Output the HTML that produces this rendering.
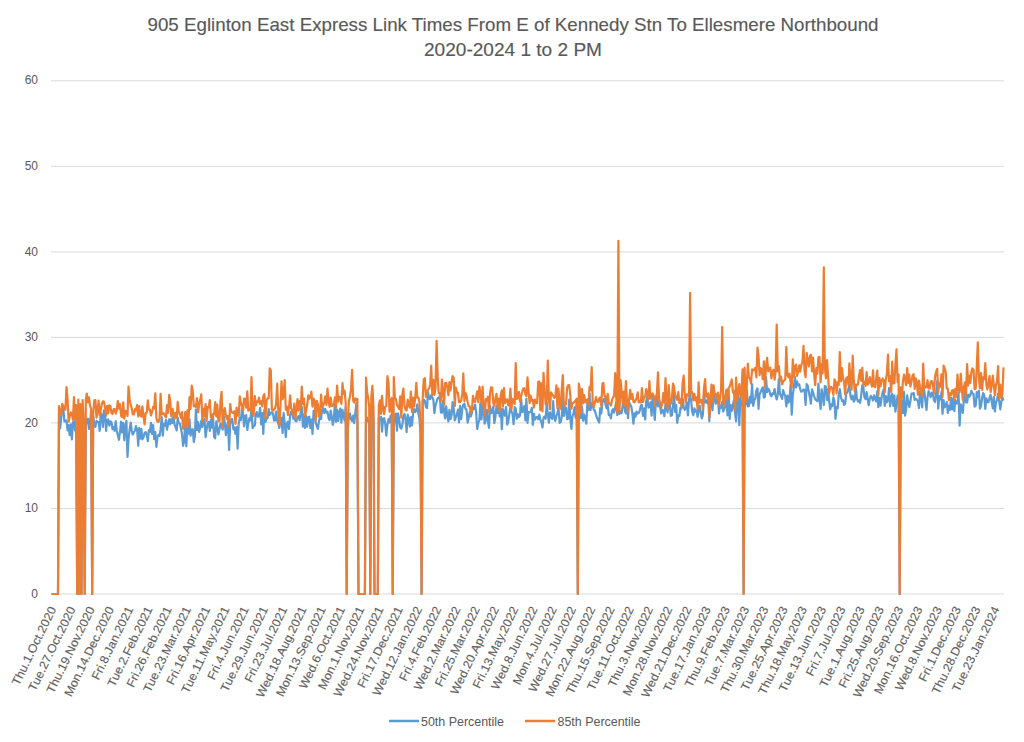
<!DOCTYPE html>
<html><head><meta charset="utf-8"><style>
html,body{margin:0;padding:0;background:#fff;}
svg{display:block;font-family:"Liberation Sans",sans-serif;}
</style></head><body>
<svg width="1024" height="742" viewBox="0 0 1024 742">
<rect width="1024" height="742" fill="#fff"/>
<g fill="#595959" stroke="#595959" stroke-width="0.15" font-size="18.5" text-anchor="middle">
<text x="513" y="30.5" textLength="731" lengthAdjust="spacingAndGlyphs">905 Eglinton East Express Link Times From E of Kennedy Stn To Ellesmere Northbound</text>
<text x="513" y="56" textLength="178" lengthAdjust="spacingAndGlyphs">2020-2024 1 to 2 PM</text>
</g>
<g stroke="#d9d9d9" stroke-width="1"><line x1="51.0" y1="508.5" x2="1004.0" y2="508.5" /><line x1="51.0" y1="422.9" x2="1004.0" y2="422.9" /><line x1="51.0" y1="337.4" x2="1004.0" y2="337.4" /><line x1="51.0" y1="251.9" x2="1004.0" y2="251.9" /><line x1="51.0" y1="166.3" x2="1004.0" y2="166.3" /><line x1="51.0" y1="80.8" x2="1004.0" y2="80.8" /><line x1="51.0" y1="594.0" x2="1004.0" y2="594.0"/></g>
<g fill="#595959" font-size="12" text-anchor="end"><text x="38" y="597.6">0</text><text x="38" y="512.1">10</text><text x="38" y="426.5">20</text><text x="38" y="341.0">30</text><text x="38" y="255.5">40</text><text x="38" y="169.9">50</text><text x="38" y="84.4">60</text></g>
<g fill="none" stroke-width="2.2" stroke-linejoin="round">
<polyline stroke="#5B9BD5" points="51.5,594.0 52.6,594.0 53.7,594.0 54.7,594.0 55.8,594.0 56.9,594.0 58.0,594.0 59.0,413.4 60.1,428.4 61.2,417.8 62.2,406.5 63.3,408.7 64.4,421.4 65.4,421.4 66.5,420.3 67.6,430.4 68.6,425.0 69.7,435.2 70.8,424.4 71.9,439.3 72.9,422.4 74.0,421.2 75.1,430.5 76.1,418.4 77.2,594.0 78.3,426.9 79.3,594.0 80.4,426.4 81.5,594.0 82.6,416.1 83.6,424.9 84.7,594.0 85.8,425.6 86.8,419.8 87.9,418.7 89.0,428.8 90.0,422.6 91.1,411.2 92.2,594.0 93.2,415.9 94.3,424.3 95.4,426.9 96.5,420.9 97.5,421.8 98.6,422.0 99.7,430.8 100.7,412.9 101.8,415.1 102.9,427.0 103.9,410.3 105.0,414.6 106.1,430.8 107.2,419.8 108.2,419.4 109.3,425.6 110.4,421.3 111.4,422.0 112.5,429.2 113.6,426.9 114.6,430.8 115.7,421.0 116.8,430.9 117.8,435.1 118.9,439.8 120.0,432.1 121.1,421.7 122.1,432.4 123.2,422.9 124.3,440.3 125.3,426.7 126.4,420.8 127.5,457.0 128.5,439.7 129.6,429.7 130.7,422.7 131.8,431.0 132.8,434.6 133.9,432.1 135.0,430.5 136.0,426.0 137.1,429.5 138.2,445.8 139.2,427.9 140.3,438.7 141.4,428.9 142.4,439.3 143.5,437.5 144.6,433.1 145.7,432.1 146.7,434.6 147.8,441.2 148.9,430.0 149.9,432.1 151.0,422.9 152.1,433.8 153.1,425.0 154.2,439.1 155.3,432.0 156.4,446.8 157.4,436.9 158.5,434.8 159.6,435.9 160.6,429.4 161.7,417.2 162.8,435.6 163.8,423.5 164.9,425.8 166.0,419.9 167.0,429.7 168.1,423.7 169.2,419.3 170.3,424.3 171.3,419.1 172.4,423.0 173.5,415.3 174.5,424.6 175.6,426.7 176.7,430.5 177.7,417.7 178.8,423.3 179.9,423.8 181.0,428.7 182.0,434.3 183.1,445.8 184.2,441.1 185.2,420.8 186.3,446.3 187.4,424.1 188.4,433.7 189.5,419.4 190.6,435.7 191.7,429.6 192.7,429.2 193.8,442.0 194.9,436.2 195.9,409.3 197.0,430.0 198.1,422.2 199.1,432.0 200.2,427.3 201.3,420.7 202.3,427.1 203.4,421.5 204.5,418.9 205.6,437.1 206.6,429.5 207.7,423.2 208.8,421.8 209.8,430.8 210.9,419.8 212.0,427.6 213.0,416.7 214.1,436.9 215.2,438.3 216.3,421.3 217.3,427.2 218.4,434.5 219.5,429.1 220.5,423.3 221.6,426.5 222.7,429.6 223.7,416.5 224.8,423.0 225.9,435.2 226.9,427.0 228.0,421.7 229.1,449.9 230.2,423.9 231.2,419.4 232.3,419.1 233.4,429.3 234.4,427.4 235.5,434.0 236.6,427.1 237.6,448.6 238.7,423.4 239.8,417.9 240.9,420.2 241.9,408.7 243.0,413.2 244.1,426.4 245.1,415.7 246.2,415.2 247.3,430.0 248.3,423.3 249.4,418.2 250.5,420.4 251.5,406.9 252.6,428.2 253.7,425.9 254.8,425.4 255.8,414.2 256.9,412.1 258.0,416.8 259.0,416.0 260.1,407.9 261.2,424.5 262.2,413.0 263.3,434.0 264.4,409.5 265.5,422.0 266.5,417.9 267.6,418.2 268.7,409.0 269.7,414.8 270.8,413.7 271.9,412.1 272.9,413.2 274.0,420.7 275.1,420.3 276.1,411.7 277.2,420.7 278.3,423.6 279.4,427.9 280.4,418.5 281.5,417.8 282.6,432.9 283.6,412.8 284.7,422.9 285.8,437.1 286.8,423.7 287.9,421.6 289.0,429.0 290.1,415.2 291.1,411.6 292.2,412.8 293.3,418.7 294.3,417.8 295.4,420.9 296.5,421.3 297.5,417.1 298.6,416.2 299.7,420.3 300.7,412.5 301.8,406.7 302.9,426.7 304.0,414.7 305.0,427.9 306.1,415.5 307.2,426.7 308.2,417.5 309.3,416.7 310.4,428.2 311.4,419.5 312.5,433.9 313.6,410.8 314.7,410.6 315.7,422.9 316.8,425.9 317.9,428.9 318.9,421.8 320.0,416.4 321.1,419.0 322.1,409.7 323.2,408.2 324.3,413.0 325.3,409.1 326.4,412.5 327.5,411.6 328.6,418.3 329.6,420.1 330.7,410.7 331.8,416.9 332.8,424.8 333.9,418.9 335.0,400.0 336.0,421.9 337.1,409.7 338.2,421.0 339.3,412.5 340.3,408.6 341.4,422.6 342.5,409.9 343.5,415.3 344.6,420.6 345.7,407.2 346.7,594.0 347.8,430.9 348.9,414.0 349.9,413.4 351.0,419.3 352.1,421.2 353.2,415.5 354.2,423.1 355.3,413.1 356.4,402.9 357.4,424.1 358.5,594.0 359.6,594.0 360.6,594.0 361.7,594.0 362.8,594.0 363.9,594.0 364.9,594.0 366.0,423.3 367.1,417.5 368.1,421.1 369.2,422.2 370.3,594.0 371.3,415.7 372.4,407.8 373.5,419.5 374.5,594.0 375.6,594.0 376.7,594.0 377.8,594.0 378.8,417.9 379.9,420.1 381.0,416.9 382.0,431.7 383.1,418.8 384.2,418.1 385.2,423.3 386.3,435.7 387.4,425.1 388.5,419.1 389.5,422.5 390.6,415.5 391.7,424.0 392.7,594.0 393.8,427.4 394.9,414.7 395.9,413.6 397.0,430.6 398.1,413.4 399.1,418.8 400.2,427.2 401.3,428.6 402.4,424.8 403.4,416.2 404.5,414.0 405.6,419.3 406.6,432.2 407.7,414.7 408.8,418.9 409.8,426.6 410.9,417.0 412.0,425.5 413.1,413.0 414.1,409.1 415.2,412.2 416.3,410.7 417.3,404.3 418.4,413.5 419.5,418.9 420.5,433.7 421.6,594.0 422.7,400.4 423.8,399.7 424.8,400.5 425.9,406.7 427.0,408.1 428.0,392.2 429.1,398.7 430.2,399.1 431.2,395.1 432.3,397.3 433.4,399.9 434.4,413.2 435.5,405.5 436.6,401.7 437.7,398.1 438.7,398.1 439.8,395.6 440.9,412.5 441.9,412.8 443.0,401.0 444.1,411.3 445.1,418.3 446.2,406.3 447.3,415.6 448.4,421.5 449.4,409.9 450.5,419.2 451.6,415.3 452.6,402.0 453.7,408.5 454.8,420.4 455.8,417.3 456.9,414.2 458.0,409.6 459.0,422.5 460.1,405.8 461.2,419.1 462.3,408.8 463.3,404.7 464.4,403.7 465.5,409.1 466.5,409.3 467.6,422.7 468.7,417.9 469.7,412.3 470.8,416.5 471.9,412.9 473.0,407.4 474.0,408.8 475.1,404.5 476.2,413.0 477.2,429.0 478.3,423.0 479.4,419.8 480.4,403.2 481.5,419.4 482.6,402.1 483.6,409.2 484.7,423.6 485.8,419.5 486.9,409.9 487.9,421.5 489.0,427.8 490.1,405.9 491.1,413.1 492.2,412.6 493.3,406.7 494.3,423.2 495.4,417.1 496.5,405.8 497.6,412.9 498.6,401.3 499.7,416.4 500.8,408.3 501.8,429.1 502.9,409.1 504.0,411.5 505.0,415.7 506.1,407.0 507.2,424.7 508.2,421.8 509.3,414.2 510.4,407.1 511.5,411.7 512.5,414.1 513.6,424.1 514.7,407.0 515.7,408.5 516.8,418.8 517.9,414.2 518.9,417.0 520.0,415.5 521.1,399.0 522.2,412.2 523.2,410.9 524.3,406.0 525.4,420.3 526.4,398.9 527.5,422.8 528.6,412.0 529.6,412.4 530.7,411.8 531.8,407.9 532.8,425.0 533.9,413.8 535.0,419.6 536.1,417.5 537.1,416.8 538.2,419.2 539.3,414.7 540.3,419.4 541.4,422.3 542.5,427.5 543.5,417.8 544.6,416.5 545.7,418.7 546.8,402.2 547.8,414.6 548.9,422.7 550.0,412.4 551.0,416.5 552.1,418.9 553.2,401.2 554.2,417.2 555.3,421.0 556.4,415.6 557.4,413.3 558.5,407.8 559.6,423.0 560.7,422.0 561.7,417.1 562.8,399.4 563.9,415.9 564.9,406.7 566.0,408.1 567.1,419.2 568.1,418.8 569.2,399.6 570.3,418.5 571.4,428.9 572.4,416.7 573.5,412.8 574.6,407.3 575.6,417.7 576.7,401.3 577.8,594.0 578.8,406.8 579.9,397.1 581.0,418.1 582.0,406.5 583.1,420.7 584.2,414.7 585.3,418.3 586.3,423.7 587.4,401.9 588.5,410.2 589.5,393.3 590.6,409.9 591.7,403.4 592.7,404.8 593.8,409.8 594.9,410.7 596.0,415.0 597.0,417.9 598.1,420.2 599.2,422.4 600.2,408.1 601.3,413.5 602.4,402.9 603.4,399.8 604.5,398.7 605.6,404.8 606.6,408.3 607.7,404.3 608.8,415.1 609.9,414.9 610.9,418.4 612.0,410.9 613.1,409.2 614.1,412.8 615.2,407.3 616.3,402.0 617.3,415.2 618.4,406.8 619.5,413.9 620.6,411.5 621.6,413.1 622.7,405.6 623.8,394.3 624.8,410.5 625.9,413.3 627.0,404.5 628.0,418.2 629.1,402.1 630.2,404.5 631.2,406.0 632.3,412.7 633.4,423.7 634.5,413.4 635.5,416.8 636.6,411.6 637.7,413.6 638.7,413.1 639.8,410.5 640.9,405.5 641.9,405.0 643.0,416.0 644.1,408.3 645.2,419.4 646.2,400.7 647.3,396.8 648.4,407.6 649.4,406.7 650.5,402.2 651.6,415.7 652.6,396.0 653.7,408.0 654.8,420.0 655.9,400.2 656.9,396.1 658.0,406.5 659.1,401.1 660.1,406.7 661.2,413.5 662.3,409.9 663.3,410.9 664.4,416.2 665.5,403.8 666.5,407.6 667.6,412.4 668.7,397.6 669.8,404.4 670.8,415.9 671.9,415.2 673.0,404.9 674.0,392.4 675.1,412.0 676.2,405.1 677.2,422.8 678.3,415.3 679.4,415.9 680.5,407.5 681.5,408.7 682.6,398.1 683.7,407.0 684.7,409.9 685.8,407.9 686.9,402.5 687.9,415.3 689.0,399.5 690.1,394.5 691.1,400.7 692.2,411.6 693.3,415.3 694.4,408.4 695.4,411.6 696.5,410.4 697.6,416.7 698.6,410.6 699.7,405.7 700.8,412.8 701.8,418.4 702.9,414.6 704.0,394.2 705.1,402.5 706.1,400.6 707.2,403.0 708.3,395.8 709.3,421.3 710.4,404.0 711.5,390.7 712.5,410.3 713.6,393.2 714.7,398.1 715.7,403.7 716.8,402.0 717.9,397.1 719.0,413.4 720.0,405.6 721.1,407.8 722.2,401.9 723.2,411.6 724.3,408.7 725.4,406.0 726.4,399.1 727.5,415.4 728.6,390.5 729.7,418.9 730.7,405.0 731.8,410.8 732.9,404.8 733.9,400.3 735.0,413.1 736.1,421.3 737.1,402.7 738.2,396.0 739.3,425.2 740.3,398.2 741.4,404.1 742.5,406.1 743.6,594.0 744.6,406.5 745.7,404.1 746.8,389.6 747.8,406.4 748.9,406.0 750.0,396.9 751.0,402.7 752.1,384.4 753.2,405.9 754.3,400.6 755.3,398.4 756.4,390.3 757.5,388.4 758.5,408.8 759.6,394.2 760.7,392.1 761.7,389.4 762.8,387.3 763.9,397.7 764.9,396.7 766.0,377.3 767.1,392.1 768.2,388.6 769.2,389.9 770.3,394.7 771.4,396.4 772.4,393.4 773.5,393.9 774.6,389.0 775.6,395.5 776.7,399.4 777.8,394.2 778.9,379.0 779.9,393.7 781.0,395.8 782.1,398.9 783.1,390.0 784.2,393.6 785.3,396.4 786.3,406.4 787.4,395.5 788.5,402.6 789.5,400.1 790.6,384.6 791.7,414.6 792.8,395.1 793.8,387.5 794.9,376.8 796.0,387.5 797.0,381.4 798.1,385.3 799.2,384.3 800.2,389.4 801.3,391.7 802.4,391.0 803.5,389.4 804.5,389.9 805.6,404.9 806.7,384.0 807.7,385.6 808.8,391.8 809.9,397.6 810.9,403.6 812.0,389.4 813.1,392.5 814.1,396.1 815.2,399.2 816.3,400.2 817.4,401.3 818.4,383.5 819.5,399.3 820.6,408.9 821.6,389.3 822.7,395.8 823.8,404.9 824.8,386.0 825.9,386.7 827.0,400.2 828.1,389.4 829.1,400.0 830.2,409.4 831.3,404.4 832.3,406.2 833.4,397.4 834.5,401.4 835.5,418.8 836.6,407.1 837.7,408.2 838.7,395.1 839.8,389.1 840.9,397.0 842.0,400.9 843.0,400.1 844.1,404.9 845.2,403.6 846.2,392.7 847.3,392.7 848.4,388.9 849.4,385.0 850.5,396.4 851.6,399.3 852.7,395.6 853.7,401.6 854.8,400.0 855.9,387.2 856.9,398.7 858.0,401.7 859.1,400.2 860.1,402.9 861.2,395.3 862.3,385.2 863.3,386.7 864.4,396.9 865.5,399.0 866.6,392.1 867.6,399.0 868.7,405.2 869.8,398.6 870.8,395.9 871.9,397.5 873.0,400.5 874.0,395.4 875.1,398.4 876.2,401.4 877.3,391.0 878.3,407.1 879.4,397.8 880.5,405.7 881.5,398.3 882.6,392.3 883.7,389.3 884.7,406.0 885.8,396.0 886.9,402.3 888.0,400.0 889.0,388.0 890.1,406.3 891.2,398.5 892.2,393.9 893.3,405.9 894.4,395.5 895.4,411.7 896.5,403.9 897.6,395.6 898.6,399.5 899.7,594.0 900.8,402.6 901.9,400.3 902.9,413.2 904.0,391.9 905.1,415.6 906.1,409.2 907.2,395.4 908.3,403.0 909.3,407.0 910.4,401.3 911.5,393.7 912.6,393.5 913.6,393.0 914.7,399.8 915.8,398.9 916.8,399.5 917.9,401.3 919.0,408.0 920.0,391.7 921.1,398.3 922.2,407.3 923.2,387.4 924.3,391.1 925.4,400.8 926.5,409.9 927.5,397.6 928.6,391.1 929.7,394.0 930.7,397.1 931.8,392.7 932.9,393.6 933.9,400.0 935.0,402.0 936.1,394.0 937.2,381.0 938.2,408.6 939.3,396.0 940.4,399.4 941.4,392.1 942.5,414.0 943.6,400.1 944.6,407.4 945.7,406.1 946.8,402.1 947.8,413.0 948.9,405.5 950.0,409.8 951.1,397.5 952.1,409.3 953.2,398.3 954.3,411.1 955.3,400.0 956.4,403.5 957.5,403.5 958.5,392.3 959.6,425.6 960.7,404.3 961.8,407.0 962.8,412.9 963.9,399.0 965.0,384.9 966.0,402.4 967.1,402.5 968.2,394.5 969.2,396.8 970.3,395.4 971.4,390.8 972.4,393.5 973.5,393.8 974.6,406.7 975.7,405.7 976.7,392.1 977.8,397.1 978.9,390.7 979.9,408.6 981.0,406.1 982.1,398.0 983.1,393.1 984.2,394.9 985.3,408.9 986.4,398.3 987.4,402.0 988.5,402.3 989.6,397.8 990.6,394.8 991.7,401.6 992.8,408.4 993.8,396.9 994.9,411.5 996.0,402.1 997.0,400.3 998.1,393.5 999.2,401.3 1000.3,409.3 1001.3,401.9 1002.4,397.4 1003.5,400.7"/>
<polyline stroke="#ED7D31" points="51.5,594.0 52.6,594.0 53.7,594.0 54.7,594.0 55.8,594.0 56.9,594.0 58.0,594.0 59.0,406.0 60.1,411.9 61.2,415.2 62.2,403.9 63.3,406.1 64.4,409.5 65.4,409.7 66.5,387.0 67.6,399.7 68.6,421.7 69.7,416.8 70.8,412.4 71.9,414.4 72.9,419.8 74.0,397.1 75.1,419.3 76.1,405.0 77.2,594.0 78.3,399.7 79.3,594.0 80.4,404.0 81.5,594.0 82.6,400.2 83.6,420.1 84.7,594.0 85.8,400.4 86.8,393.5 87.9,402.3 89.0,397.4 90.0,405.9 91.1,408.7 92.2,594.0 93.2,413.4 94.3,400.3 95.4,400.1 96.5,417.6 97.5,411.8 98.6,400.6 99.7,415.4 100.7,410.4 101.8,404.0 102.9,401.3 103.9,401.6 105.0,407.2 106.1,415.6 107.2,405.9 108.2,413.4 109.3,405.4 110.4,406.2 111.4,412.8 112.5,414.0 113.6,409.2 114.6,409.2 115.7,413.6 116.8,410.2 117.8,401.0 118.9,408.7 120.0,404.1 121.1,415.8 122.1,417.1 123.2,402.4 124.3,418.6 125.3,410.9 126.4,411.2 127.5,416.0 128.5,386.5 129.6,398.9 130.7,405.1 131.8,408.5 132.8,414.3 133.9,414.5 135.0,409.0 136.0,410.3 137.1,405.1 138.2,416.3 139.2,406.2 140.3,415.3 141.4,416.6 142.4,406.3 143.5,416.1 144.6,424.4 145.7,413.2 146.7,413.0 147.8,400.3 148.9,409.6 149.9,409.6 151.0,415.5 152.1,411.7 153.1,406.9 154.2,408.5 155.3,393.4 156.4,418.0 157.4,421.5 158.5,421.9 159.6,418.2 160.6,393.8 161.7,414.6 162.8,413.9 163.8,413.3 164.9,415.7 166.0,417.4 167.0,405.1 168.1,413.0 169.2,394.9 170.3,402.2 171.3,416.5 172.4,408.9 173.5,412.7 174.5,419.0 175.6,413.0 176.7,417.7 177.7,401.9 178.8,411.9 179.9,414.2 181.0,418.2 182.0,412.0 183.1,428.7 184.2,422.1 185.2,412.2 186.3,427.2 187.4,410.3 188.4,425.6 189.5,397.0 190.6,408.8 191.7,385.5 192.7,390.4 193.8,406.4 194.9,405.3 195.9,406.8 197.0,398.2 198.1,412.4 199.1,404.8 200.2,399.8 201.3,394.4 202.3,421.2 203.4,408.7 204.5,416.3 205.6,404.1 206.6,420.9 207.7,407.2 208.8,407.5 209.8,400.1 210.9,417.2 212.0,418.1 213.0,414.1 214.1,414.3 215.2,402.2 216.3,416.5 217.3,404.7 218.4,421.4 219.5,420.9 220.5,401.2 221.6,391.9 222.7,427.1 223.7,411.4 224.8,408.2 225.9,415.8 226.9,419.2 228.0,416.0 229.1,427.0 230.2,404.1 231.2,411.4 232.3,412.6 233.4,413.0 234.4,411.3 235.5,424.0 236.6,407.7 237.6,413.6 238.7,416.3 239.8,396.4 240.9,402.9 241.9,406.1 243.0,410.6 244.1,398.5 245.1,399.1 246.2,407.6 247.3,391.4 248.3,410.6 249.4,408.8 250.5,410.3 251.5,377.2 252.6,412.1 253.7,416.0 254.8,396.2 255.8,405.5 256.9,401.4 258.0,402.1 259.0,397.7 260.1,403.9 261.2,401.2 262.2,406.4 263.3,396.3 264.4,394.1 265.5,418.3 266.5,401.2 267.6,398.4 268.7,398.1 269.7,368.3 270.8,370.3 271.9,409.5 272.9,410.6 274.0,409.5 275.1,408.3 276.1,404.1 277.2,383.7 278.3,412.1 279.4,425.4 280.4,408.0 281.5,381.4 282.6,399.2 283.6,395.3 284.7,380.2 285.8,409.7 286.8,406.6 287.9,415.0 289.0,407.4 290.1,395.3 291.1,408.2 292.2,410.3 293.3,414.3 294.3,403.5 295.4,418.4 296.5,409.2 297.5,399.0 298.6,410.6 299.7,401.2 300.7,409.9 301.8,386.5 302.9,403.9 304.0,398.7 305.0,416.0 306.1,411.1 307.2,404.8 308.2,395.4 309.3,398.8 310.4,396.6 311.4,391.7 312.5,406.7 313.6,398.6 314.7,401.3 315.7,420.3 316.8,400.9 317.9,404.3 318.9,416.5 320.0,413.8 321.1,394.7 322.1,407.0 323.2,405.7 324.3,402.0 325.3,396.4 326.4,404.9 327.5,388.7 328.6,401.7 329.6,406.8 330.7,397.6 331.8,406.0 332.8,405.7 333.9,404.1 335.0,397.4 336.0,407.5 337.1,385.5 338.2,401.7 339.3,396.6 340.3,397.6 341.4,403.9 342.5,383.2 343.5,393.8 344.6,390.7 345.7,402.8 346.7,594.0 347.8,421.2 348.9,401.0 349.9,396.8 351.0,390.0 352.1,369.9 353.2,400.7 354.2,402.5 355.3,398.3 356.4,400.3 357.4,398.8 358.5,594.0 359.6,594.0 360.6,594.0 361.7,594.0 362.8,594.0 363.9,594.0 364.9,594.0 366.0,377.6 367.1,391.9 368.1,397.9 369.2,406.7 370.3,594.0 371.3,397.0 372.4,385.9 373.5,407.5 374.5,594.0 375.6,594.0 376.7,594.0 377.8,594.0 378.8,405.4 379.9,400.3 381.0,413.8 382.0,395.9 383.1,409.1 384.2,414.2 385.2,406.8 386.3,406.1 387.4,376.2 388.5,382.4 389.5,411.7 390.6,401.4 391.7,398.0 392.7,594.0 393.8,377.0 394.9,398.1 395.9,398.9 397.0,405.1 398.1,406.8 399.1,409.1 400.2,396.3 401.3,417.7 402.4,394.4 403.4,388.5 404.5,405.9 405.6,410.0 406.6,410.5 407.7,399.6 408.8,405.2 409.8,407.5 410.9,391.7 412.0,412.0 413.1,397.5 414.1,406.5 415.2,398.0 416.3,382.8 417.3,397.6 418.4,397.6 419.5,402.5 420.5,428.6 421.6,594.0 422.7,397.8 423.8,379.4 424.8,378.1 425.9,397.0 427.0,391.5 428.0,389.7 429.1,388.4 430.2,384.6 431.2,365.7 432.3,394.8 433.4,379.9 434.4,394.8 435.5,388.5 436.6,340.8 437.7,376.5 438.7,393.2 439.8,393.0 440.9,400.9 441.9,379.5 443.0,391.8 444.1,405.0 445.1,383.1 446.2,382.9 447.3,387.3 448.4,395.2 449.4,382.2 450.5,390.3 451.6,381.7 452.6,376.0 453.7,377.8 454.8,406.2 455.8,387.6 456.9,392.3 458.0,393.0 459.0,402.1 460.1,402.1 461.2,400.5 462.3,393.9 463.3,373.4 464.4,401.1 465.5,392.9 466.5,395.6 467.6,402.0 468.7,406.1 469.7,406.4 470.8,413.1 471.9,410.0 473.0,395.9 474.0,401.7 475.1,401.9 476.2,396.6 477.2,391.3 478.3,402.2 479.4,386.7 480.4,393.6 481.5,403.3 482.6,386.5 483.6,406.7 484.7,415.9 485.8,399.1 486.9,400.5 487.9,396.7 489.0,412.2 490.1,392.4 491.1,387.4 492.2,387.6 493.3,403.2 494.3,405.7 495.4,398.8 496.5,393.8 497.6,407.2 498.6,398.7 499.7,411.1 500.8,395.2 501.8,390.4 502.9,406.6 504.0,388.2 505.0,403.2 506.1,400.9 507.2,399.1 508.2,405.3 509.3,405.6 510.4,388.6 511.5,409.1 512.5,398.8 513.6,400.5 514.7,403.9 515.7,363.1 516.8,399.1 517.9,397.9 518.9,391.8 520.0,401.3 521.1,396.4 522.2,392.1 523.2,388.5 524.3,388.2 525.4,394.4 526.4,396.3 527.5,377.3 528.6,391.5 529.6,403.2 530.7,395.7 531.8,400.7 532.8,399.9 533.9,407.7 535.0,399.5 536.1,402.8 537.1,403.2 538.2,381.9 539.3,381.5 540.3,410.2 541.4,383.3 542.5,411.4 543.5,372.9 544.6,389.7 545.7,404.5 546.8,399.6 547.8,360.5 548.9,398.5 550.0,409.1 551.0,392.3 552.1,394.4 553.2,395.9 554.2,397.8 555.3,396.7 556.4,385.4 557.4,408.4 558.5,388.5 559.6,405.1 560.7,408.8 561.7,390.0 562.8,375.2 563.9,406.0 564.9,404.1 566.0,404.3 567.1,388.1 568.1,385.3 569.2,385.0 570.3,395.4 571.4,408.8 572.4,403.4 573.5,402.6 574.6,401.6 575.6,400.6 576.7,398.7 577.8,594.0 578.8,383.5 579.9,389.1 581.0,413.1 582.0,389.1 583.1,403.2 584.2,395.2 585.3,402.4 586.3,400.6 587.4,399.3 588.5,405.3 589.5,386.8 590.6,390.1 591.7,367.2 592.7,402.3 593.8,407.2 594.9,402.6 596.0,397.2 597.0,401.4 598.1,401.9 599.2,398.4 600.2,397.3 601.3,405.8 602.4,383.5 603.4,383.0 604.5,396.1 605.6,396.4 606.6,403.2 607.7,393.8 608.8,403.0 609.9,403.6 610.9,405.4 612.0,400.2 613.1,397.4 614.1,395.8 615.2,373.1 616.3,399.5 617.3,412.7 618.4,240.8 619.5,411.4 620.6,380.0 621.6,390.9 622.7,402.8 623.8,391.7 624.8,405.6 625.9,381.1 627.0,401.9 628.0,411.6 629.1,399.6 630.2,389.8 631.2,399.0 632.3,394.0 633.4,401.5 634.5,402.3 635.5,400.5 636.6,397.8 637.7,392.4 638.7,402.3 639.8,401.4 640.9,402.5 641.9,388.2 643.0,402.0 644.1,397.4 645.2,396.6 646.2,389.0 647.3,393.6 648.4,399.4 649.4,381.2 650.5,398.7 651.6,395.8 652.6,393.4 653.7,395.8 654.8,405.7 655.9,397.6 656.9,393.1 658.0,372.4 659.1,398.5 660.1,404.1 661.2,407.6 662.3,403.0 663.3,393.1 664.4,402.7 665.5,378.2 666.5,399.5 667.6,408.0 668.7,385.1 669.8,401.8 670.8,403.7 671.9,398.0 673.0,383.7 674.0,386.7 675.1,394.8 676.2,397.9 677.2,399.8 678.3,392.1 679.4,403.0 680.5,399.2 681.5,406.1 682.6,383.1 683.7,375.7 684.7,393.6 685.8,402.4 686.9,394.3 687.9,394.6 689.0,395.8 690.1,292.9 691.1,393.1 692.2,392.2 693.3,400.4 694.4,393.9 695.4,400.3 696.5,397.4 697.6,408.9 698.6,382.4 699.7,402.7 700.8,400.3 701.8,399.9 702.9,409.2 704.0,388.1 705.1,379.1 706.1,396.6 707.2,395.5 708.3,393.3 709.3,417.2 710.4,401.5 711.5,384.7 712.5,402.5 713.6,385.4 714.7,394.3 715.7,394.2 716.8,399.5 717.9,392.5 719.0,405.5 720.0,398.5 721.1,390.1 722.2,327.1 723.2,401.8 724.3,405.3 725.4,396.1 726.4,389.6 727.5,399.9 728.6,388.0 729.7,386.5 730.7,383.1 731.8,379.5 732.9,392.3 733.9,390.8 735.0,410.5 736.1,377.7 737.1,400.2 738.2,392.4 739.3,384.1 740.3,395.6 741.4,397.2 742.5,369.4 743.6,594.0 744.6,367.6 745.7,401.4 746.8,386.0 747.8,363.6 748.9,377.3 750.0,378.5 751.0,383.6 752.1,369.4 753.2,370.5 754.3,370.0 755.3,367.8 756.4,377.5 757.5,347.5 758.5,355.3 759.6,375.2 760.7,368.1 761.7,369.5 762.8,379.1 763.9,361.4 764.9,387.0 766.0,367.4 767.1,357.9 768.2,371.1 769.2,370.1 770.3,367.4 771.4,378.3 772.4,372.1 773.5,369.8 774.6,379.6 775.6,372.0 776.7,324.6 777.8,371.4 778.9,366.1 779.9,381.2 781.0,376.5 782.1,384.5 783.1,381.6 784.2,380.5 785.3,379.0 786.3,346.8 787.4,374.8 788.5,377.2 789.5,373.6 790.6,382.1 791.7,387.6 792.8,359.4 793.8,376.6 794.9,366.9 796.0,364.6 797.0,375.9 798.1,371.6 799.2,365.3 800.2,371.6 801.3,365.2 802.4,362.1 803.5,345.9 804.5,370.9 805.6,377.2 806.7,352.8 807.7,360.5 808.8,366.3 809.9,356.2 810.9,354.6 812.0,371.3 813.1,357.7 814.1,373.2 815.2,385.1 816.3,368.1 817.4,373.7 818.4,357.5 819.5,356.8 820.6,382.3 821.6,364.4 822.7,373.5 823.8,267.3 824.8,367.0 825.9,378.3 827.0,360.1 828.1,375.7 829.1,393.3 830.2,387.7 831.3,386.8 832.3,389.4 833.4,394.8 834.5,379.3 835.5,381.4 836.6,393.4 837.7,382.3 838.7,384.9 839.8,352.0 840.9,381.3 842.0,368.2 843.0,378.1 844.1,382.1 845.2,394.3 846.2,378.2 847.3,377.2 848.4,384.7 849.4,363.3 850.5,381.5 851.6,389.6 852.7,355.5 853.7,378.9 854.8,391.5 855.9,384.6 856.9,385.4 858.0,384.0 859.1,375.6 860.1,370.0 861.2,381.0 862.3,367.8 863.3,384.1 864.4,382.0 865.5,385.9 866.6,372.2 867.6,384.6 868.7,383.2 869.8,377.2 870.8,380.3 871.9,386.6 873.0,370.4 874.0,386.2 875.1,387.0 876.2,378.7 877.3,370.5 878.3,395.2 879.4,377.9 880.5,386.5 881.5,381.0 882.6,378.5 883.7,380.4 884.7,392.3 885.8,379.6 886.9,373.6 888.0,354.7 889.0,381.2 890.1,376.0 891.2,392.0 892.2,361.7 893.3,383.4 894.4,383.1 895.4,364.7 896.5,349.4 897.6,382.1 898.6,374.5 899.7,594.0 900.8,387.4 901.9,397.7 902.9,381.3 904.0,374.7 905.1,380.0 906.1,385.1 907.2,368.0 908.3,383.0 909.3,374.5 910.4,386.6 911.5,381.6 912.6,375.4 913.6,374.1 914.7,389.0 915.8,378.3 916.8,381.8 917.9,394.7 919.0,380.6 920.0,386.5 921.1,391.8 922.2,396.2 923.2,363.7 924.3,388.5 925.4,387.1 926.5,387.0 927.5,380.2 928.6,388.5 929.7,388.5 930.7,381.7 931.8,381.0 932.9,384.7 933.9,394.0 935.0,377.0 936.1,371.6 937.2,368.8 938.2,392.0 939.3,383.0 940.4,386.7 941.4,374.4 942.5,396.9 943.6,365.5 944.6,368.4 945.7,371.9 946.8,388.5 947.8,388.5 948.9,400.1 950.0,393.0 951.1,394.9 952.1,390.6 953.2,390.1 954.3,399.6 955.3,388.9 956.4,396.9 957.5,374.6 958.5,389.8 959.6,392.2 960.7,373.8 961.8,388.4 962.8,400.1 963.9,386.9 965.0,382.4 966.0,395.5 967.1,364.0 968.2,385.5 969.2,375.5 970.3,382.9 971.4,371.9 972.4,368.4 973.5,369.7 974.6,389.2 975.7,388.8 976.7,367.9 977.8,342.3 978.9,378.3 979.9,388.1 981.0,373.1 982.1,389.9 983.1,377.3 984.2,379.3 985.3,363.2 986.4,384.9 987.4,389.4 988.5,383.5 989.6,376.0 990.6,392.2 991.7,385.9 992.8,375.5 993.8,385.0 994.9,395.1 996.0,384.6 997.0,381.4 998.1,366.0 999.2,398.7 1000.3,384.6 1001.3,398.0 1002.4,393.7 1003.5,367.4"/>
</g>
<g fill="#606060" stroke="#606060" stroke-width="0.12" font-size="12" text-anchor="end"><text transform="translate(56.5,609.0) rotate(-64) scale(1.04,1)">Thu.1.Oct.2020</text><text transform="translate(75.8,609.0) rotate(-64) scale(1.04,1)">Tue.27.Oct.2020</text><text transform="translate(95.0,609.0) rotate(-64) scale(1.04,1)">Thu.19.Nov.2020</text><text transform="translate(114.3,609.0) rotate(-64) scale(1.04,1)">Mon.14.Dec.2020</text><text transform="translate(133.5,609.0) rotate(-64) scale(1.04,1)">Fri.8.Jan.2021</text><text transform="translate(152.8,609.0) rotate(-64) scale(1.04,1)">Tue.2.Feb.2021</text><text transform="translate(172.0,609.0) rotate(-64) scale(1.04,1)">Fri.26.Feb.2021</text><text transform="translate(191.3,609.0) rotate(-64) scale(1.04,1)">Tue.23.Mar.2021</text><text transform="translate(210.6,609.0) rotate(-64) scale(1.04,1)">Fri.16.Apr.2021</text><text transform="translate(229.8,609.0) rotate(-64) scale(1.04,1)">Tue.11.May.2021</text><text transform="translate(249.1,609.0) rotate(-64) scale(1.04,1)">Fri.4.Jun.2021</text><text transform="translate(268.3,609.0) rotate(-64) scale(1.04,1)">Tue.29.Jun.2021</text><text transform="translate(287.6,609.0) rotate(-64) scale(1.04,1)">Fri.23.Jul.2021</text><text transform="translate(306.8,609.0) rotate(-64) scale(1.04,1)">Wed.18.Aug.2021</text><text transform="translate(326.1,609.0) rotate(-64) scale(1.04,1)">Mon.13.Sep.2021</text><text transform="translate(345.3,609.0) rotate(-64) scale(1.04,1)">Wed.6.Oct.2021</text><text transform="translate(364.6,609.0) rotate(-64) scale(1.04,1)">Mon.1.Nov.2021</text><text transform="translate(383.8,609.0) rotate(-64) scale(1.04,1)">Wed.24.Nov.2021</text><text transform="translate(403.1,609.0) rotate(-64) scale(1.04,1)">Fri.17.Dec.2021</text><text transform="translate(422.3,609.0) rotate(-64) scale(1.04,1)">Wed.12.Jan.2022</text><text transform="translate(441.6,609.0) rotate(-64) scale(1.04,1)">Fri.4.Feb.2022</text><text transform="translate(460.8,609.0) rotate(-64) scale(1.04,1)">Wed.2.Mar.2022</text><text transform="translate(480.1,609.0) rotate(-64) scale(1.04,1)">Fri.25.Mar.2022</text><text transform="translate(499.3,609.0) rotate(-64) scale(1.04,1)">Wed.20.Apr.2022</text><text transform="translate(518.6,609.0) rotate(-64) scale(1.04,1)">Fri.13.May.2022</text><text transform="translate(537.8,609.0) rotate(-64) scale(1.04,1)">Wed.8.Jun.2022</text><text transform="translate(557.1,609.0) rotate(-64) scale(1.04,1)">Mon.4.Jul.2022</text><text transform="translate(576.4,609.0) rotate(-64) scale(1.04,1)">Wed.27.Jul.2022</text><text transform="translate(595.6,609.0) rotate(-64) scale(1.04,1)">Mon.22.Aug.2022</text><text transform="translate(614.9,609.0) rotate(-64) scale(1.04,1)">Thu.15.Sep.2022</text><text transform="translate(634.1,609.0) rotate(-64) scale(1.04,1)">Tue.11.Oct.2022</text><text transform="translate(653.4,609.0) rotate(-64) scale(1.04,1)">Thu.3.Nov.2022</text><text transform="translate(672.6,609.0) rotate(-64) scale(1.04,1)">Mon.28.Nov.2022</text><text transform="translate(691.9,609.0) rotate(-64) scale(1.04,1)">Wed.21.Dec.2022</text><text transform="translate(711.1,609.0) rotate(-64) scale(1.04,1)">Tue.17.Jan.2023</text><text transform="translate(730.4,609.0) rotate(-64) scale(1.04,1)">Thu.9.Feb.2023</text><text transform="translate(749.6,609.0) rotate(-64) scale(1.04,1)">Tue.7.Mar.2023</text><text transform="translate(768.9,609.0) rotate(-64) scale(1.04,1)">Thu.30.Mar.2023</text><text transform="translate(788.1,609.0) rotate(-64) scale(1.04,1)">Tue.25.Apr.2023</text><text transform="translate(807.4,609.0) rotate(-64) scale(1.04,1)">Thu.18.May.2023</text><text transform="translate(826.6,609.0) rotate(-64) scale(1.04,1)">Tue.13.Jun.2023</text><text transform="translate(845.9,609.0) rotate(-64) scale(1.04,1)">Fri.7.Jul.2023</text><text transform="translate(865.1,609.0) rotate(-64) scale(1.04,1)">Tue.1.Aug.2023</text><text transform="translate(884.4,609.0) rotate(-64) scale(1.04,1)">Fri.25.Aug.2023</text><text transform="translate(903.6,609.0) rotate(-64) scale(1.04,1)">Wed.20.Sep.2023</text><text transform="translate(922.9,609.0) rotate(-64) scale(1.04,1)">Mon.16.Oct.2023</text><text transform="translate(942.2,609.0) rotate(-64) scale(1.04,1)">Wed.8.Nov.2023</text><text transform="translate(961.4,609.0) rotate(-64) scale(1.04,1)">Fri.1.Dec.2023</text><text transform="translate(980.7,609.0) rotate(-64) scale(1.04,1)">Thu.28.Dec.2023</text><text transform="translate(999.9,609.0) rotate(-64) scale(1.04,1)">Tue.23.Jan.2024</text></g>
<g stroke-width="2.5"><line x1="389" y1="721" x2="419" y2="721" stroke="#5B9BD5"/><line x1="525" y1="721" x2="555" y2="721" stroke="#ED7D31"/></g>
<g fill="#595959" font-size="12"><text x="421" y="725.5" textLength="83" lengthAdjust="spacingAndGlyphs">50th Percentile</text><text x="557.5" y="725.5" textLength="83" lengthAdjust="spacingAndGlyphs">85th Percentile</text></g>
</svg>
</body></html>
